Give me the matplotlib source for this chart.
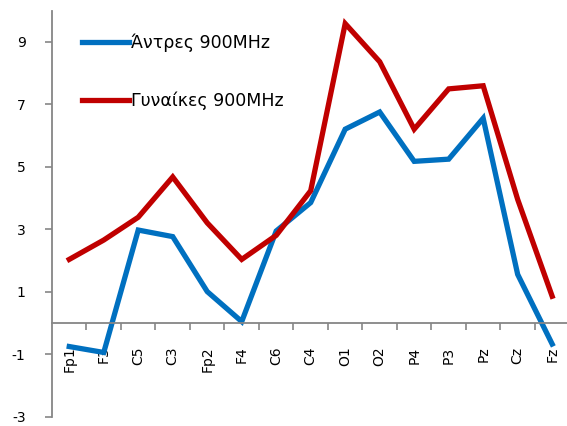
import matplotlib
matplotlib.use("Agg")
import matplotlib.pyplot as plt
from matplotlib.ticker import FixedLocator, NullFormatter

# Electrode positions and mean values per group
electrodes = ["Fp1", "F3", "C5", "C3", "Fp2", "F4", "C6", "C4",
              "O1", "O2", "P4", "P3", "Pz", "Cz", "Fz"]
men_900 = [-0.76, -0.95, 2.97, 2.76, 1.0, 0.04, 2.94, 3.85,
           6.2, 6.75, 5.17, 5.24, 6.55, 1.55, -0.68]
women_900 = [2.03, 2.65, 3.38, 4.67, 3.2, 2.03, 2.8, 4.23,
             9.58, 8.36, 6.2, 7.49, 7.59, 3.95, 0.85]
y_ticks = [-3, -1, 1, 3, 5, 7, 9]

W, H = 567, 426
fig = plt.figure(figsize=(W / 100, H / 100), dpi=100)
ax = fig.add_axes([52 / W, 9.5 / H, (W - 52) / W, 406 / H])

x = list(range(len(electrodes)))
ax.plot(x, men_900, color="#0070C0", lw=3.8, solid_joinstyle="miter",
        label="Άντρες 900MHz")
ax.plot(x, women_900, color="#C00000", lw=3.8, solid_joinstyle="miter",
        label="Γυναίκες 900MHz")

ax.set_xlim(-0.5, 14.43)
ax.set_ylim(-3, 10)

grey = "#868686"
for side in ("top", "right"):
    ax.spines[side].set_visible(False)
ax.spines["left"].set_color(grey)
ax.spines["bottom"].set_color(grey)
ax.spines["left"].set_linewidth(1.3)
ax.spines["bottom"].set_linewidth(1.3)
ax.spines["bottom"].set_position(("data", 0))
ax.spines["left"].set_bounds(-3, 10)

ax.set_yticks(y_ticks)
ax.set_yticklabels([str(v) for v in y_ticks])
ax.tick_params(axis="y", direction="out", length=5, width=1.2, color=grey,
               pad=14, labelsize=10, labelcolor="black")

ax.set_xticks(x)
ax.set_xticklabels(electrodes, rotation=90, va="top", ha="center")
ax.tick_params(axis="x", which="major", length=0, pad=17, labelsize=10,
               labelcolor="black")
ax.xaxis.set_minor_locator(FixedLocator([i + 0.5 for i in range(len(electrodes) - 1)]))
ax.xaxis.set_minor_formatter(NullFormatter())
ax.tick_params(axis="x", which="minor", direction="out", length=5, width=1.2,
               color=grey)

leg = ax.legend(loc="upper left", bbox_to_anchor=(30 / (W - 52), 1 - 23 / 406),
                frameon=False, fontsize=12.5, handlelength=2.7, handletextpad=0.15,
                labelspacing=2.3, borderpad=0, borderaxespad=0)

fig.savefig("out.png", dpi=100)
